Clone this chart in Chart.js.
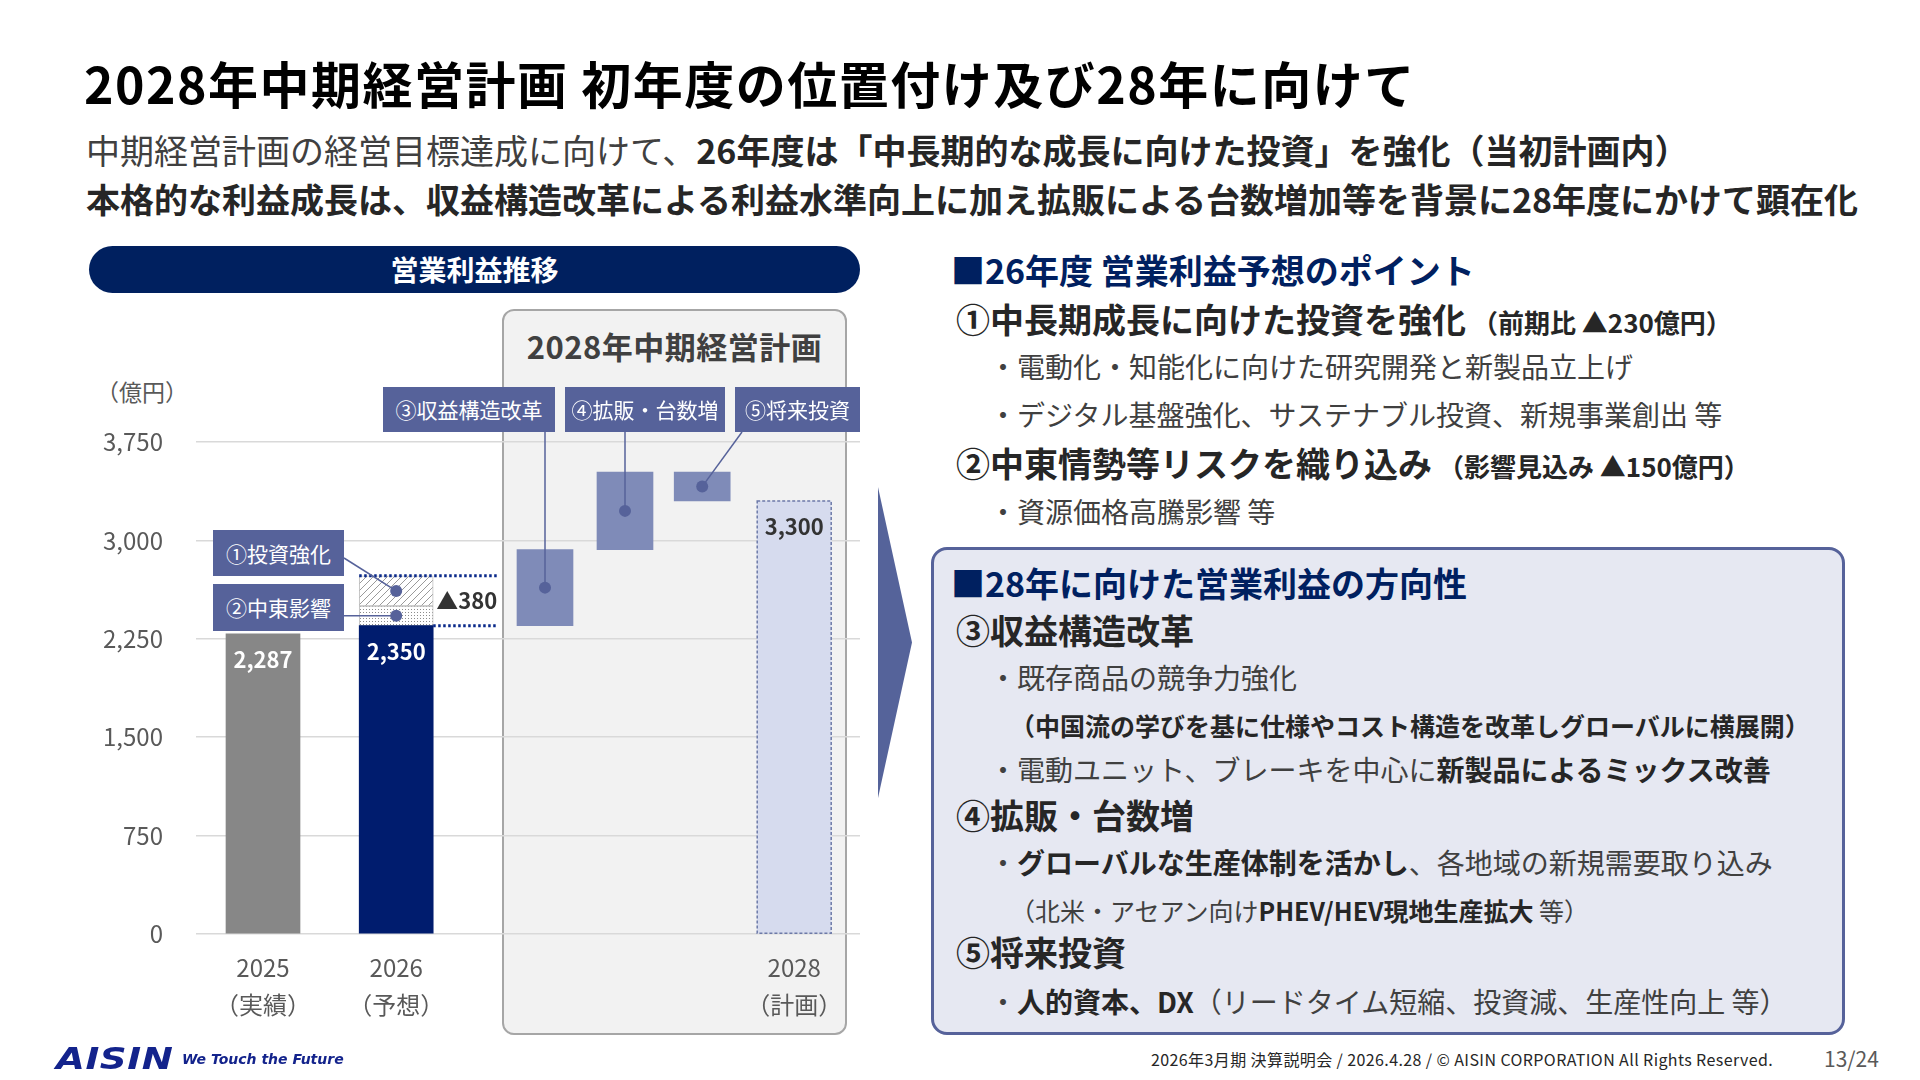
<!DOCTYPE html>
<html lang="ja">
<head>
<meta charset="utf-8">
<title>2028年中期経営計画 初年度の位置付け及び28年に向けて</title>
<script src="https://cdn.jsdelivr.net/npm/chart.js@4.4.1/dist/chart.umd.min.js"></script>
<style>
  html, body { margin: 0; padding: 0; background: #fff; }
  body { width: 1920px; height: 1080px; position: relative; overflow: hidden;
         font-family: "Noto Sans CJK JP", "Noto Sans", sans-serif; color: #404040; }
  .abs { position: absolute; white-space: nowrap; line-height: 1.2; }
  .b { font-weight: 700; color: #262626; }
  .navy { color: #002060; font-weight: 700; }
  #title { left: 84px; top: 52px; font-size: 50px; font-weight: 700; color: #000; letter-spacing: 1.5px; }
  #pill { position: absolute; left: 89px; top: 246px; width: 771px; height: 47px; border-radius: 24px;
          background: #00205f; color: #fff; font-weight: 700; font-size: 28px; text-align: center; line-height: 47px; }
  #panel { position: absolute; left: 502px; top: 309px; width: 341px; height: 722px; background: #f2f2f2;
           border: 2px solid #a6a6a6; border-radius: 12px; }
  #panelTitle { position: absolute; left: 0; right: 0; top: 12px; text-align: center; font-size: 31px;
                font-weight: 700; color: #404040; letter-spacing: 0.5px; }
  #chartWrap { position: absolute; left: 80px; top: 380px; width: 800px; height: 680px; }
  .callout { position: absolute; background: #56629a; color: #fff; font-size: 21px; text-align: center;
             white-space: nowrap; z-index: 3; }
  #unit { left: 96px; top: 378px; font-size: 23px; color: #595959; }
  #arrow { position: absolute; left: 878px; top: 487px; width: 34px; height: 311px; background: #55639a;
           clip-path: polygon(0 0, 100% 50%, 0 100%); }
  #box { position: absolute; left: 931px; top: 547px; width: 908px; height: 482px; background: #e6e8f2;
         border: 3px solid #56629a; border-radius: 16px; }
  .h1 { font-size: 34px; }
  .h2 { font-size: 34px; font-weight: 700; color: #262626; }
  .t  { font-size: 28px; }
  .s  { font-size: 25px; }
  #logo { left: 56px; top: 1040px; font-family: "DejaVu Sans", sans-serif; font-weight: 700; font-style: italic;
          font-size: 31px; color: #13238c; transform: scaleX(1.2); transform-origin: left center; letter-spacing: 0.5px; }
  #tag { left: 182px; top: 1051px; font-family: "DejaVu Sans", sans-serif; font-weight: 700; font-style: italic;
         font-size: 14px; color: #13238c; }
  #foot { left: 1151px; top: 1050px; font-size: 16px; color: #262626; letter-spacing: 0.4px; }
  #page { left: 1824px; top: 1046px; font-size: 21px; color: #595959; }
</style>
</head>
<body>

<div id="title" class="abs">2028年中期経営計画 初年度の位置付け及び28年に向けて</div>
<div class="abs" style="left:86px; top:130px; font-size:34px;">中期経営計画の経営目標達成に向けて、<span class="b">26年度は「中長期的な成長に向けた投資」を強化（当初計画内）</span></div>
<div class="abs b" style="left:86px; top:179px; font-size:34px;">本格的な利益成長は、収益構造改革による利益水準向上に加え拡販による台数増加等を背景に28年度にかけて顕在化</div>

<div id="pill">営業利益推移</div>
<div id="panel"><div id="panelTitle">2028年中期経営計画</div></div>
<div id="unit" class="abs">（億円）</div>
<div id="chartWrap"><canvas id="profitChart"></canvas></div>
<div id="arrow"></div>

<div class="abs navy h1" style="left:951px; top:250px;">■26年度 営業利益予想のポイント</div>
<div class="abs h2" style="left:956px; top:299px;">①中長期成長に向けた投資を強化<span style="font-size:26px;"> （前期比 ▲230億円）</span></div>
<div class="abs t" style="left:989px; top:350px;">・電動化・知能化に向けた研究開発と新製品立上げ</div>
<div class="abs t" style="left:989px; top:398px;">・デジタル基盤強化、サステナブル投資、新規事業創出 等</div>
<div class="abs h2" style="left:956px; top:443px;">②中東情勢等リスクを織り込み<span style="font-size:26px;"> （影響見込み ▲150億円）</span></div>
<div class="abs t" style="left:989px; top:495px;">・資源価格高騰影響 等</div>

<div id="box"></div>
<div class="abs navy h1" style="left:951px; top:563px;">■28年に向けた営業利益の方向性</div>
<div class="abs h2" style="left:956px; top:610px;">③収益構造改革</div>
<div class="abs t" style="left:989px; top:661px;">・既存商品の競争力強化</div>
<div class="abs s b" style="left:1010px; top:710px;">（中国流の学びを基に仕様やコスト構造を改革しグローバルに横展開）</div>
<div class="abs t" style="left:989px; top:753px;">・電動ユニット、ブレーキを中心に<span class="b">新製品によるミックス改善</span></div>
<div class="abs h2" style="left:956px; top:795px;">④拡販・台数増</div>
<div class="abs t" style="left:989px; top:846px;">・<span class="b">グローバルな生産体制を活かし</span>、各地域の新規需要取り込み</div>
<div class="abs s" style="left:1010px; top:895px;">（北米・アセアン向け<span class="b">PHEV/HEV現地生産拡大</span> 等）</div>
<div class="abs h2" style="left:956px; top:932px;">⑤将来投資</div>
<div class="abs t" style="left:989px; top:985px;">・<span class="b">人的資本、DX</span>（リードタイム短縮、投資減、生産性向上 等）</div>

<div id="logo" class="abs">AISIN</div>
<div id="tag" class="abs">We Touch the Future</div>
<div id="foot" class="abs">2026年3月期 決算説明会 / 2026.4.28 / © AISIN CORPORATION All Rights Reserved.</div>
<div id="page" class="abs">13/24</div>

<script>
// ---- data (億円) ----
const categories = ['2025', '2026', '③', '④', '⑤', '2028'];
const periodNotes = ['（実績）', '（予想）', '', '', '', '（計画）'];
const profit = [2287, 2350, null, null, null, 3300];
const stepFrom = [null, null, 2350, 2930, 3520, null];
const stepTo = [null, null, 2930, 3520, 3300, null];
const investDelta = 230;   // ①投資強化
const mideastDelta = 150;  // ②中東影響
const yTicks = [0, 750, 1500, 2250, 3000, 3750];

// ---- layout ----
const slotX = [0, 3.33, 7.05, 9.05, 10.98, 13.28];
const FONT = '"Noto Sans CJK JP", "Noto Sans", sans-serif';
const WRAP = { left: 80, top: 380 };
const calloutBoxes = [
  { text: '①投資強化',   x: 213, y: 530, w: 131, h: 46 },
  { text: '②中東影響',   x: 213, y: 584, w: 131, h: 47 },
  { text: '③収益構造改革', x: 383, y: 387, w: 172, h: 45 },
  { text: '④拡販・台数増', x: 565, y: 387, w: 160, h: 45 },
  { text: '⑤将来投資',   x: 735, y: 387, w: 125, h: 45 }
];

calloutBoxes.forEach(b => {
  const d = document.createElement('div');
  d.className = 'callout';
  d.textContent = b.text;
  Object.assign(d.style, { left: b.x + 'px', top: b.y + 'px', width: b.w + 'px', height: b.h + 'px', lineHeight: b.h + 'px' });
  document.body.appendChild(d);
});

function makePattern(kind) {
  const c = document.createElement('canvas');
  const g = c.getContext('2d');
  if (kind === 'hatch') {
    c.width = c.height = 7;
    g.fillStyle = '#fff'; g.fillRect(0, 0, 7, 7);
    g.strokeStyle = '#9a9a9a'; g.lineWidth = 1;
    g.beginPath(); g.moveTo(-1, 8); g.lineTo(8, -1); g.stroke();
  } else {
    c.width = c.height = 3;
    g.fillStyle = '#fff'; g.fillRect(0, 0, 3, 3);
    g.fillStyle = '#8c8c8c'; g.fillRect(1, 1, 1, 1);
  }
  return g.createPattern(c, 'repeat');
}

const totalIdx = [0, 1, 5];
const stepIdx = [2, 3, 4];
const base26 = profit[1];

const annotPlugin = {
  id: 'annot',
  afterDatasetsDraw(chart) {
    const ctx = chart.ctx;
    const y = chart.scales.y;
    const tot = chart.getDatasetMeta(0).data;
    const mid = chart.getDatasetMeta(1).data[0];
    const inv = chart.getDatasetMeta(2).data[0];
    const steps = chart.getDatasetMeta(3).data;
    ctx.save();

    // 2028 plan bar dashed outline
    const plan = tot[2];
    ctx.setLineDash([3, 2]);
    ctx.strokeStyle = '#6d7aa8'; ctx.lineWidth = 1.5;
    ctx.strokeRect(plan.x - plan.width / 2, plan.y, plan.width, plan.base - plan.y);

    // dotted guide lines around the ▲ range
    const bar = tot[1];
    const left = bar.x - bar.width / 2, right = bar.x + bar.width / 2, end = right + 64;
    const yTop = y.getPixelForValue(base26 + mideastDelta + investDelta);
    const yBot = y.getPixelForValue(base26);
    ctx.setLineDash([2.5, 2.5]);
    ctx.strokeStyle = '#0a2a8a'; ctx.lineWidth = 3;
    ctx.beginPath(); ctx.moveTo(left, yTop); ctx.lineTo(end, yTop); ctx.stroke();
    ctx.beginPath(); ctx.moveTo(right, yBot); ctx.lineTo(end, yBot); ctx.stroke();
    ctx.setLineDash([]);

    // value labels
    ctx.font = '700 22px ' + FONT;
    ctx.textAlign = 'center'; ctx.textBaseline = 'middle';
    totalIdx.forEach((k, i) => {
      const el = tot[i];
      ctx.fillStyle = k === 5 ? '#333333' : '#ffffff';
      ctx.fillText(profit[k].toLocaleString('en-US'), el.x, el.y + 26);
    });
    ctx.fillStyle = '#333333';
    ctx.textAlign = 'left';
    ctx.fillText('▲' + (mideastDelta + investDelta), right + 3, (yTop + yBot) / 2);

    // callout connectors and dots
    const ox = WRAP.left, oy = WRAP.top;
    const dot = (px, py) => { ctx.beginPath(); ctx.arc(px, py, 6, 0, Math.PI * 2); ctx.fill(); };
    const centre = el => [el.x, (el.y + el.base) / 2];
    const targets = [centre(inv), centre(mid), centre(steps[0]), centre(steps[1]), centre(steps[2])];
    const starts = [
      [calloutBoxes[0].x + calloutBoxes[0].w - ox, calloutBoxes[0].y + 28 - oy],
      [calloutBoxes[1].x + calloutBoxes[1].w - ox, targets[1][1]],
      [targets[2][0], calloutBoxes[2].y + calloutBoxes[2].h - oy],
      [targets[3][0], calloutBoxes[3].y + calloutBoxes[3].h - oy],
      [calloutBoxes[4].x + 7 - ox, calloutBoxes[4].y + calloutBoxes[4].h - oy]
    ];
    ctx.strokeStyle = '#56629a'; ctx.fillStyle = '#56629a'; ctx.lineWidth = 1.5;
    targets.forEach((t, i) => {
      ctx.beginPath(); ctx.moveTo(starts[i][0], starts[i][1]); ctx.lineTo(t[0], t[1]); ctx.stroke();
      dot(t[0], t[1]);
    });
    ctx.restore();
  }
};

new Chart(document.getElementById('profitChart'), {
  type: 'bar',
  data: {
    datasets: [
      {
        label: '営業利益',
        data: totalIdx.map(k => ({ x: slotX[k], y: profit[k] })),
        backgroundColor: ['#878787', '#001c6e', '#d6dbee'],
        barThickness: 74
      },
      {
        label: '②中東影響',
        data: [{ x: slotX[1], y: [base26, base26 + mideastDelta] }],
        backgroundColor: makePattern('dots'),
        borderColor: '#bfbfbf', borderWidth: 1, borderSkipped: false,
        barThickness: 74
      },
      {
        label: '①投資強化',
        data: [{ x: slotX[1], y: [base26 + mideastDelta, base26 + mideastDelta + investDelta] }],
        backgroundColor: makePattern('hatch'),
        borderColor: '#bfbfbf', borderWidth: 1, borderSkipped: false,
        barThickness: 74
      },
      {
        label: '増減要因',
        data: stepIdx.map(k => ({ x: slotX[k], y: [stepFrom[k], stepTo[k]] })),
        backgroundColor: '#7f8bb8',
        barThickness: 56
      }
    ]
  },
  options: {
    responsive: true,
    maintainAspectRatio: false,
    animation: false,
    layout: { padding: { top: 62, right: 20, left: 0, bottom: 0 } },
    datasets: { bar: { grouped: false } },
    plugins: { legend: { display: false }, tooltip: { enabled: false } },
    scales: {
      x: {
        type: 'linear', min: -1.675, max: 14.925, offset: false,
        grid: { display: false }, border: { display: false },
        afterBuildTicks: s => { s.ticks = slotX.map(v => ({ value: v })); },
        afterFit: s => { s.height = 126; },
        ticks: {
          autoSkip: false, maxRotation: 0, padding: 7, color: '#595959',
          font: { family: FONT, size: 24, lineHeight: 1.55 },
          callback: v => {
            const k = slotX.indexOf(v);
            return periodNotes[k] ? [categories[k], periodNotes[k]] : '';
          }
        }
      },
      y: {
        min: 0, max: 3750,
        afterBuildTicks: s => { s.ticks = yTicks.map(v => ({ value: v })); },
        afterFit: s => { s.width = 116; },
        grid: { color: '#d9d9d9', lineWidth: 1.5, drawTicks: false },
        border: { display: false },
        ticks: {
          padding: 33, color: '#595959',
          font: { family: FONT, size: 24 },
          callback: v => v.toLocaleString('en-US')
        }
      }
    }
  },
  plugins: [annotPlugin]
});
</script>
</body>
</html>
